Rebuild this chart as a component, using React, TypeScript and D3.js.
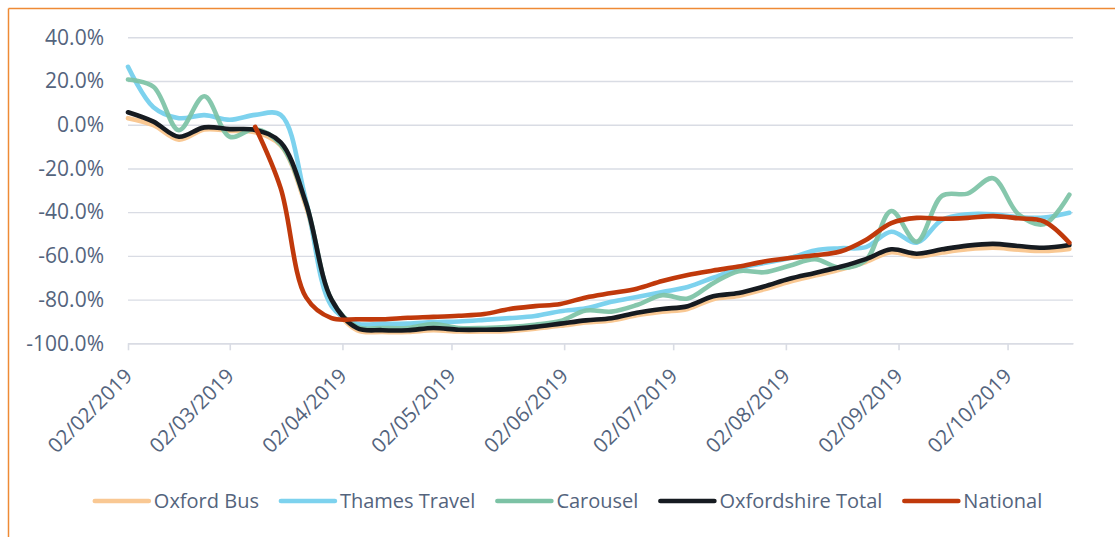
import React, { useRef, useEffect } from "react";
import * as d3 from "d3";

// weekly points
const weeks = [
  "2019-02-02", "2019-02-09", "2019-02-16", "2019-02-23", "2019-03-02", "2019-03-09",
  "2019-03-16", "2019-03-23", "2019-03-30", "2019-04-06", "2019-04-13", "2019-04-20",
  "2019-04-27", "2019-05-04", "2019-05-11", "2019-05-18", "2019-05-25", "2019-06-01",
  "2019-06-08", "2019-06-15", "2019-06-22", "2019-06-29", "2019-07-06", "2019-07-13",
  "2019-07-20", "2019-07-27", "2019-08-03", "2019-08-10", "2019-08-17", "2019-08-24",
  "2019-08-31", "2019-09-07", "2019-09-14", "2019-09-21", "2019-09-28", "2019-10-05",
  "2019-10-12", "2019-10-19",
];

const oxfordBus = [
  3.0, -0.2, -6.8, -2.2, -2.8, -3.5, -9.5, -37.5, -81, -94, -94.8, -94.8, -94, -94.6,
  -94.6, -94.3, -93.3, -92, -90.5, -89.5, -87.2, -85.6, -84.3, -79.8, -78.3, -75.3,
  -71.8, -69, -66.3, -62.8, -58.3, -60.3, -58.5, -57, -56.3, -57.2, -57.8, -56.8,
];

const thamesTravel = [
  26.5, 8, 3, 4.4, 2.3, 4.5, 4.5, -35, -83, -91, -91, -91, -90.3, -90, -89.3, -88.5,
  -87.5, -85.3, -84, -81, -78.8, -76.5, -74.2, -70, -65.8, -63.3, -61, -57.5, -56.5,
  -56, -49, -54, -43.5, -41, -41, -42.3, -42.5, -40.3,
];

const carousel = [
  20.7, 17.4, -2.5, 13, -5.5, -2, -9, -36, -80, -92.5, -93, -93, -91.2, -93, -93,
  -92.5, -91.5, -89.8, -85, -85.5, -82.5, -78, -79.5, -72.5, -67, -67.5, -64.5, -61.5,
  -65.5, -62, -39.5, -53.5, -32.5, -31.5, -24.5, -41, -45.5, -32,
];

const oxfordshireTotal = [
  5.7, 1.4, -5.5, -1.2, -2.0, -2.4, -8, -36, -80, -93, -94, -94, -93, -93.8, -93.8,
  -93.5, -92.5, -91, -89.5, -88.5, -86, -84.3, -83, -78.5, -77, -74, -70.5, -67.8, -65,
  -61.5, -57, -59, -57, -55.3, -54.5, -55.5, -56.3, -55,
];

const national = [
  null, null, null, null, null, -1, -29, -79, -88.5, -89, -89, -88.3, -87.9, -87.4,
  -86.6, -84.3, -83, -82, -79, -77, -75, -71.5, -68.7, -66.7, -64.9, -62.6, -61, -59.7,
  -58, -52.7, -45, -42.6, -43, -42.6, -41.8, -42.8, -44.2, -54,
];

const tickDates = [
  "2019-02-02", "2019-03-02", "2019-04-02", "2019-05-02", "2019-06-02",
  "2019-07-02", "2019-08-02", "2019-09-02", "2019-10-02",
];
const yTicks = [-100, -80, -60, -40, -20, 0, 20, 40];

const seriesNames = ["Oxford Bus", "Thames Travel", "Carousel", "Oxfordshire Total", "National"];
const seriesValues = [oxfordBus, thamesTravel, carousel, oxfordshireTotal, national];
const seriesColors = ["#f9c893", "#7dd2ee", "#7cc2a5", "#161b21", "#c0390b"];

const W = 1115;
const H = 537;
const FONT = "'Open Sans', sans-serif";
const TEXT = "#54647d";
const GRID = "#d9dce4";

const App = () => {
  const svgRef = useRef(null);

  useEffect(() => {
    const svg = d3.select(svgRef.current);
    svg.selectAll("*").remove();

    const parse = d3.timeParse("%Y-%m-%d");
    const fmt = d3.timeFormat("%d/%m/%Y");
    const dates = weeks.map((d) => parse(d));

    const x = d3
      .scaleTime()
      .domain([parse("2019-02-02"), parse("2019-10-20")])
      .range([128, 1073]);
    const y = d3.scaleLinear().domain([-100, 40]).range([343.3, 37.3]);

    // frame (only top + left edges show)
    svg.append("line").attr("x1", 8.5).attr("x2", W).attr("y1", 8.5).attr("y2", 8.5)
      .attr("stroke", "#ee8a35").attr("stroke-width", 1.5);
    svg.append("line").attr("x1", 8.5).attr("x2", 8.5).attr("y1", 8.5).attr("y2", H)
      .attr("stroke", "#ee8a35").attr("stroke-width", 1.5);

    // y axis + gridlines
    const yAxis = svg
      .append("g")
      .attr("transform", "translate(128,0)")
      .call(
        d3.axisLeft(y)
          .tickValues(yTicks)
          .tickSize(-945)
          .tickPadding(24)
          .tickFormat((d) => d.toFixed(1) + "%")
      );
    yAxis.select(".domain").remove();
    yAxis.selectAll("line").attr("stroke", GRID).attr("stroke-width", 1.4);
    yAxis.selectAll("text")
      .attr("fill", TEXT)
      .style("font-family", FONT)
      .style("font-size", "21px");

    // x axis
    const xAxis = svg
      .append("g")
      .attr("transform", `translate(0,${y(-100)})`)
      .call(
        d3.axisBottom(x)
          .tickValues(tickDates.map((d) => parse(d)))
          .tickSize(7)
          .tickSizeOuter(0)
          .tickFormat(fmt)
      );
    xAxis.select(".domain").attr("stroke", GRID).attr("stroke-width", 1.6);
    xAxis.selectAll("line").attr("stroke", GRID).attr("stroke-width", 1.6);
    xAxis.selectAll("text")
      .attr("x", 0)
      .attr("y", 0)
      .attr("dy", 0)
      .attr("text-anchor", "end")
      .attr("transform", "translate(5,34) rotate(-45)")
      .attr("fill", TEXT)
      .style("font-family", FONT)
      .style("font-size", "20.5px");

    // lines
    const line = d3
      .line()
      .defined((d) => d[1] != null)
      .x((d) => x(d[0]))
      .y((d) => y(d[1]))
      .curve(d3.curveCatmullRom.alpha(0.5));

    seriesValues.forEach((vals, i) => {
      svg
        .append("path")
        .datum(vals.map((v, j) => [dates[j], v]))
        .attr("d", line)
        .attr("fill", "none")
        .attr("stroke", seriesColors[i])
        .attr("stroke-opacity", i === 2 ? 0.92 : 1)
        .attr("stroke-width", 4.6)
        .attr("stroke-linejoin", "round")
        .attr("stroke-linecap", "round");
    });

    // legend
    const legend = svg.append("g").attr("transform", "translate(0,501)");
    let cx = 0;
    seriesNames.forEach((name, i) => {
      const g = legend.append("g").attr("transform", `translate(${cx},0)`);
      g.append("line")
        .attr("x1", 0).attr("x2", 54)
        .attr("stroke", seriesColors[i])
        .attr("stroke-width", 4.6)
        .attr("stroke-linecap", "round");
      const t = g.append("text")
        .attr("x", 59)
        .attr("dy", "0.35em")
        .attr("fill", TEXT)
        .style("font-family", FONT)
        .style("font-size", "20px")
        .text(name);
      cx += 59 + t.node().getComputedTextLength() + 22;
    });
    const total = cx - 22;
    legend.attr("transform", `translate(${568.5 - total / 2},501)`);
  }, []);

  return (
    <svg
      ref={svgRef}
      width={W}
      height={H}
      style={{ position: "absolute", left: 0, top: 0, background: "#fff" }}
    ></svg>
  );
};

export default App;
